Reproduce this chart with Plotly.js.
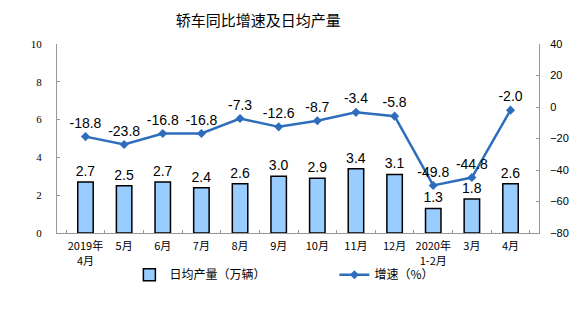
<!DOCTYPE html>
<html>
<head>
<meta charset="utf-8">
<script src="https://cdn.plot.ly/plotly-3.0.1.min.js"></script>
<style>html,body{margin:0;padding:0;background:#fff;}#chart{width:575px;height:314px;}</style>
</head>
<body>
<div id="chart"></div>
<script>
const categories = ["2019年<br>4月","5月","6月","7月","8月","9月","10月","11月","12月","2020年<br>1-2月","3月","4月"];
const dailyOutput = [2.7, 2.5, 2.7, 2.4, 2.6, 3.0, 2.9, 3.4, 3.1, 1.3, 1.8, 2.6];
const growthRate = [-18.8, -23.8, -16.8, -16.8, -7.3, -12.6, -8.7, -3.4, -5.8, -49.8, -44.8, -2.0];
const barName = "日均产量（万辆）";
const lineName = "增速（%）";
const titleText = "轿车同比增速及日均产量";

const traces = [
  {
    type: "bar", x: categories, y: dailyOutput, name: barName,
    marker: {color: "#99CCFF", line: {color: "#000000", width: 1.5}},
    text: dailyOutput.map(v => v.toFixed(1)), textposition: "outside", cliponaxis: false,
    constraintext: "none",
    textfont: {family: "Liberation Sans, Arial", size: 14, color: "#000"},
    hoverinfo: "none"
  },
  {
    type: "scatter", mode: "lines+markers+text", x: categories, y: growthRate, name: lineName,
    yaxis: "y2",
    line: {color: "#2E6DBE", width: 2.5},
    marker: {symbol: "diamond", size: 7, color: "#2E6DBE"},
    text: growthRate.map(v => v.toFixed(1)), textposition: "top center", cliponaxis: false,
    textfont: {family: "Liberation Sans, Arial", size: 14, color: "#000"},
    hoverinfo: "none"
  }
];

const layout = {
  width: 575, height: 314,
  margin: {l: 57, r: 36, t: 44, b: 81},
  paper_bgcolor: "#fff", plot_bgcolor: "#fff",
  title: {text: titleText, x: 0.449, xanchor: "center", y: 0.935, yanchor: "middle",
          font: {family: "Noto Sans CJK SC", size: 15, color: "#000"}},
  bargap: 0.6,
  showlegend: true,
  legend: {orientation: "h", xref: "container", yref: "container",
           x: 0.225, xanchor: "left", y: 0.125, yanchor: "middle",
           bgcolor: "rgba(0,0,0,0)",
           entrywidth: 160, entrywidthmode: "pixels",
           font: {family: "Noto Sans CJK SC", size: 12, color: "#000"}, traceorder: "normal"},
  xaxis: {
    type: "category", showline: true, linecolor: "#999", linewidth: 1,
    ticks: "inside", tickson: "boundaries", ticklen: 3, tickcolor: "#999",
    showgrid: false, zeroline: false, tickangle: 0, automargin: false,
    ticklabelstandoff: 3,
    tickfont: {family: "Noto Sans CJK SC", size: 11, color: "#000"}
  },
  yaxis: {
    range: [0, 10], dtick: 2, showline: true, linecolor: "#999", linewidth: 1,
    ticks: "inside", ticklen: 3, tickcolor: "#999", showgrid: false, zeroline: false,
    tickfont: {family: "Liberation Serif, Times New Roman", size: 11, color: "#000"},
    ticklabelstandoff: 12, automargin: false
  },
  yaxis2: {
    overlaying: "y", side: "right", range: [-80, 40], dtick: 20,
    showline: true, linecolor: "#999", linewidth: 1,
    ticks: "inside", ticklen: 3, tickcolor: "#999", showgrid: false, zeroline: false,
    tickfont: {family: "Liberation Sans, Arial", size: 11, color: "#000"},
    ticklabelstandoff: 8, automargin: false
  }
};

Plotly.newPlot("chart", traces, layout, {staticPlot: true, displayModeBar: false});
</script>
</body>
</html>
